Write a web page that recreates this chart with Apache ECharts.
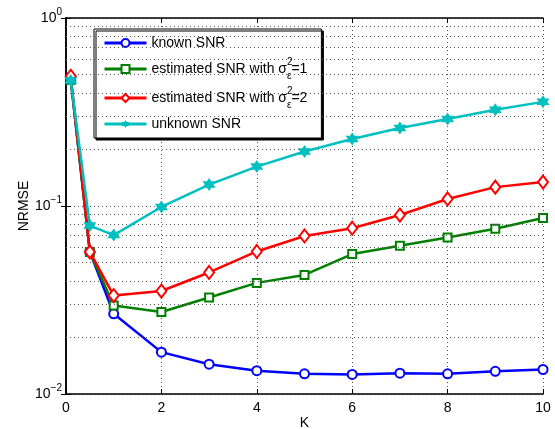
<!DOCTYPE html>
<html>
<head>
<meta charset="utf-8">
<script src="https://cdn.jsdelivr.net/npm/echarts@6/dist/echarts.min.js"></script>
<style>
html,body{margin:0;padding:0;background:#fff;}
#chart{width:555px;height:429px;}
</style>
</head>
<body>
<div id="chart"></div>
<script>
// ---- data ----
const kValues = [0.1, 0.5, 1, 2, 3, 4, 5, 6, 7, 8, 9, 10];
const knownSNR = [0.47, 0.057, 0.0267, 0.0167, 0.0144, 0.0133, 0.0128, 0.0127, 0.0129, 0.0128, 0.0132, 0.0135];
const estSNR1 = [0.47, 0.057, 0.0296, 0.0273, 0.0326, 0.0390, 0.0430, 0.0555, 0.0615, 0.0680, 0.0757, 0.0863];
const estSNR2 = [0.49, 0.057, 0.0334, 0.0353, 0.0443, 0.0573, 0.0693, 0.0762, 0.0895, 0.109, 0.126, 0.134];
const unknownSNR = [0.465, 0.0787, 0.070, 0.0988, 0.130, 0.162, 0.195, 0.227, 0.260, 0.290, 0.325, 0.358];
const seriesNames = ['known SNR', 'estimated SNR with σ_ε^2=1', 'estimated SNR with σ_ε^2=2', 'unknown SNR'];
const xTicks = [0, 2, 4, 6, 8, 10];
const yMinorGrid = [0.02, 0.03, 0.04, 0.05, 0.06, 0.07, 0.08, 0.09, 0.2, 0.3, 0.4, 0.5, 0.6, 0.7, 0.8, 0.9];

const FONT = 'Liberation Sans, Arial, Helvetica, sans-serif';
const hexagram = 'path://M0,-10 L2.887,-5 L8.66,-5 L5.774,0 L8.66,5 L2.887,5 L0,10 L-2.887,5 L-8.66,5 L-5.774,0 L-8.66,-5 L-2.887,-5 Z';

function pairs(ys) { return kValues.map((k, i) => [k, ys[i]]); }

const chart = echarts.init(document.getElementById('chart'), null, {renderer: 'canvas'});

const gridDots = {color: '#555', width: 1, type: [1, 3]};

const option = {
  backgroundColor: '#fff',
  animation: false,
  grid: {left: 66, right: 12, top: 18, bottom: 35, containLabel: false, outerBoundsMode: 'none'},
  legend: {
    orient: 'vertical',
    left: 94, top: 29,
    data: seriesNames,
    backgroundColor: '#fff',
    borderColor: '#000', borderWidth: 1,
    shadowColor: 'rgba(0,0,0,1)', shadowBlur: 0, shadowOffsetX: 2, shadowOffsetY: 2,
    padding: [5, 14, 5, 9],
    itemWidth: 42, itemHeight: 10, itemGap: 5, itemTextGap: 7,
    itemStyle: {borderWidth: 2},
    lineStyle: {width: 3},
    formatter: function (name) {
      if (name.indexOf('σ_ε^2') >= 0) {
        const parts = name.split('σ_ε^2');
        return '{n|' + parts[0] + 'σ}{sup|2}{sub|ε}{n|' + parts[1] + '}';
      }
      return name;
    },
    textStyle: {
      fontFamily: FONT, fontSize: 14, color: '#000', lineHeight: 18,
      rich: {
        n: {fontFamily: FONT, fontSize: 14, color: '#000', lineHeight: 24},
        sup: {fontFamily: FONT, fontSize: 10, color: '#000', lineHeight: 13, verticalAlign: 'top', width: 0},
        sub: {fontFamily: FONT, fontSize: 10, color: '#000', lineHeight: 11, verticalAlign: 'bottom'}
      }
    }
  },
  xAxis: [{
    type: 'value', min: 0, max: 10, interval: 2,
    name: 'K', nameLocation: 'middle', nameGap: 22, nameMoveOverlap: false,
    nameTextStyle: {fontFamily: FONT, fontSize: 14, color: '#000'},
    axisLine: {lineStyle: {color: '#000', width: 1.5}},
    axisTick: {inside: true, length: 5, lineStyle: {color: '#000'}},
    axisLabel: {margin: 7, fontFamily: FONT, fontSize: 14, color: '#000',
      formatter: v => xTicks.indexOf(v) >= 0 ? String(v) : ''},
    splitLine: {show: true, lineStyle: gridDots}
  }, {
    type: 'value', min: 0, max: 10, interval: 2, position: 'top',
    axisLine: {lineStyle: {color: '#000', width: 1.5}},
    axisTick: {inside: true, length: 5, lineStyle: {color: '#000'}},
    axisLabel: {show: false}, splitLine: {show: false}
  }],
  yAxis: [{
    type: 'log', logBase: 10, min: 0.01, max: 1,
    name: 'NRMSE', nameLocation: 'middle', nameGap: 35, nameRotate: 90, nameMoveOverlap: false,
    nameTextStyle: {fontFamily: FONT, fontSize: 14, color: '#000'},
    axisLine: {show: true, lineStyle: {color: '#000', width: 1.5}},
    axisTick: {inside: true, length: 5, lineStyle: {color: '#000'}},
    axisLabel: {
      margin: 4,
      formatter: function (v) {
        const e = Math.round(Math.log10(v));
        return '{b|10}{s|' + (e < 0 ? '\u2212' + (-e) : e) + '}';
      },
      rich: {
        b: {fontFamily: FONT, fontSize: 14, color: '#000', lineHeight: 22},
        s: {fontFamily: FONT, fontSize: 10, color: '#000', lineHeight: 12, verticalAlign: 'top'}
      }
    },
    splitLine: {show: true, lineStyle: gridDots}
  }, {
    type: 'log', logBase: 10, min: 0.01, max: 1, position: 'right',
    axisLine: {show: true, lineStyle: {color: '#000', width: 1.5}},
    axisTick: {inside: true, length: 5, lineStyle: {color: '#000'}},
    axisLabel: {show: false}, splitLine: {show: false}
  }],
  series: [
    {
      name: '_grid', type: 'line', data: [], z: 1, silent: true,
      markLine: {
        silent: true, symbol: 'none', label: {show: false},
        lineStyle: gridDots, animation: false,
        data: yMinorGrid.map(v => ({yAxis: v}))
      }
    },
    {
      name: seriesNames[0], type: 'line', data: pairs(knownSNR),
      color: '#0000ff', lineStyle: {width: 2.5},
      symbol: 'emptyCircle', symbolSize: 9, itemStyle: {borderWidth: 2}, z: 3
    },
    {
      name: seriesNames[1], type: 'line', data: pairs(estSNR1),
      color: '#008000', lineStyle: {width: 2.5},
      symbol: 'emptyRect', symbolSize: 8, itemStyle: {borderWidth: 2}, z: 4
    },
    {
      name: seriesNames[2], type: 'line', data: pairs(estSNR2),
      color: '#ff0000', lineStyle: {width: 2.5},
      symbol: 'emptyDiamond', symbolSize: [10, 13], itemStyle: {borderWidth: 2}, z: 5
    },
    {
      name: seriesNames[3], type: 'line', data: pairs(unknownSNR),
      color: '#00bfbf', lineStyle: {width: 2.5},
      symbol: hexagram, symbolSize: 13, itemStyle: {borderWidth: 0}, z: 6
    }
  ]
};
chart.setOption(option);
</script>
</body>
</html>
